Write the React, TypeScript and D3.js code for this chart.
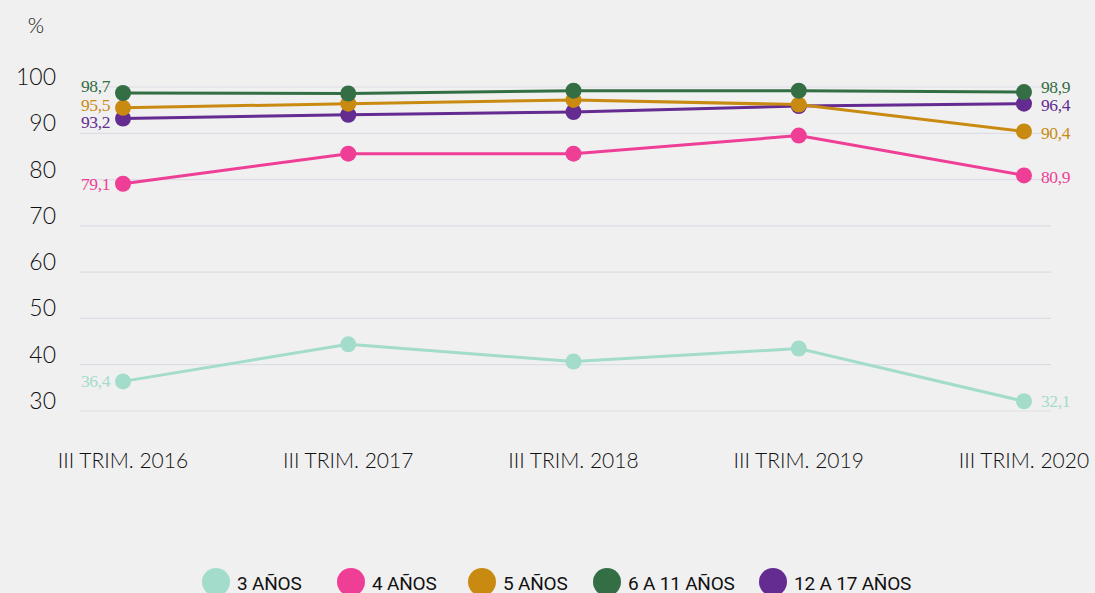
import React from "react";
import * as d3 from "d3";

const categories = ["III TRIM. 2016", "III TRIM. 2017", "III TRIM. 2018", "III TRIM. 2019", "III TRIM. 2020"];
const yTicks = [30, 40, 50, 60, 70, 80, 90, 100];
const seriesNames = ["3 AÑOS", "4 AÑOS", "5 AÑOS", "6 A 11 AÑOS", "12 A 17 AÑOS"];
const values3 = [36.4, 44.4, 40.7, 43.5, 32.1];
const values4 = [79.1, 85.6, 85.6, 89.5, 80.9];
const values5 = [95.5, 96.4, 97.2, 96.2, 90.4];
const values6to11 = [98.7, 98.6, 99.2, 99.2, 98.9];
const values12to17 = [93.2, 94.0, 94.6, 95.9, 96.4];

const colors = ["#a4dccb", "#ef3e96", "#c98a12", "#336e45", "#642b91"];
// label vertical nudges [left, right] in px
const labelNudge = [[0, 0], [0, 2], [-3, 2], [-7, -5], [4, 1]];
const drawOrder = [0, 1, 4, 2, 3];

export default function App() {
  const W = 1095, H = 593;
  const all = [values3, values4, values5, values6to11, values12to17];
  const x = d3.scalePoint<string>().domain(categories).range([123, 1024]);
  const y = d3.scaleLinear().domain([30, 100]).range([411, 87]);
  const line = d3.line<number>().x((_, i) => x(categories[i])!).y((v) => y(v));
  const fmt = (v: number) => v.toFixed(1).replace(".", ",");
  const legendX = [216, 351, 482, 607, 773];

  return (
    <svg width={W} height={H} style={{ position: "absolute", left: 0, top: 0, background: "#f0f0f0" }}>
      <rect width={W} height={H} fill="#f0f0f0" />
      <text x={36} y={33} fontFamily="Lato" fontWeight={300} fontSize={21} fill="#111" textAnchor="middle">%</text>
      {yTicks.map((t) => (
        <g key={t}>
          <line x1={80} x2={1051} y1={y(t)} y2={y(t)} stroke="#dddde6" strokeWidth={1.2} />
          <text x={56} y={y(t) - 2} textAnchor="end" fontFamily="Lato" fontWeight={300} fontSize={23} fill="#111">{t}</text>
        </g>
      ))}
      {categories.map((c) => (
        <text key={c} x={x(c)} y={468} textAnchor="middle" fontFamily="Lato" fontWeight={300} fontSize={21} fill="#111">{c}</text>
      ))}
      {drawOrder.map((si) => (
        <g key={si}>
          <path d={line(all[si]) || ""} fill="none" stroke={colors[si]} strokeWidth={3} />
          {all[si].map((v, i) => (
            <circle key={i} cx={x(categories[i])} cy={y(v)} r={8} fill={colors[si]} />
          ))}
        </g>
      ))}
      {all.map((vals, si) => (
        <g key={"lab" + si}>
          <text x={110} y={y(vals[0]) + 6 + labelNudge[si][0]} textAnchor="end" fontFamily="Liberation Serif" fontSize={17.5} fill={colors[si]} letterSpacing={-0.4}>{fmt(vals[0])}</text>
          <text x={1041} y={y(vals[4]) + 6 + labelNudge[si][1]} textAnchor="start" fontFamily="Liberation Serif" fontSize={17.5} fill={colors[si]} letterSpacing={-0.4}>{fmt(vals[4])}</text>
        </g>
      ))}
      {seriesNames.map((n, i) => (
        <g key={n}>
          <circle cx={legendX[i]} cy={582} r={14} fill={colors[i]} />
          <text x={legendX[i] + 21} y={590} fontFamily="Roboto" fontWeight={400} fontSize={19} fill="#111" letterSpacing={-0.2}>{n}</text>
        </g>
      ))}
    </svg>
  );
}
